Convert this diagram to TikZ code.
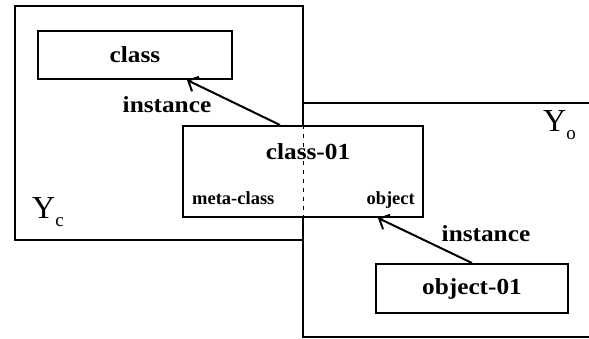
\documentclass[tikz,border=0pt]{standalone}
\usepackage{fontspec}
\setmainfont{Liberation Serif}
\newfontfamily\bigbf[FakeStretch=1.1]{Liberation Serif Bold}
\newfontfamily\smallbf{Liberation Serif Bold}
\usetikzlibrary{arrows.meta}
\tikzset{
  frame/.style={line width=2pt},
  box/.style={draw, line width=2pt, fill=white, inner sep=0pt},
  bigtxt/.style={font=\bigbf\fontsize{23}{25}\selectfont},
  smalltxt/.style={font=\smallbf\fontsize{18.5}{20}\selectfont},
  arr/.style={line width=2pt, -{Straight Barb[length=8pt,width=16pt,line width=2pt]}},
  ylab/.style={font=\fontsize{32}{34}\selectfont, inner sep=0pt, anchor=base west}
}
\newcommand{\ysub}[1]{Y\raisebox{-8pt}{\fontsize{19}{20}\selectfont #1}}
\begin{document}
\begin{tikzpicture}[x=1pt,y=-1pt]
\useasboundingbox (0,0) rectangle (589,339);
% Y_c frame
\draw[frame] (15,6) rectangle (303,240);
% Y_o frame (open to the right)
\draw[frame] (600,103) -- (303,103) -- (303,337) -- (600,337);
\node[ylab] (yc) at (32,219) {\ysub{c}};
\node[ylab] (yo) at (543,132) {\ysub{o}};
% boxes
\node[box, minimum width=194pt, minimum height=48pt] (cls) at (135,55) {};
\node[bigtxt] (clst) at (cls) {class};
\node[box, minimum width=240pt, minimum height=91pt] (c01) at (303,171.5) {};
\draw[line width=0.8pt, dash pattern=on 4pt off 5pt] (c01.north) -- (c01.south);
\node[bigtxt, anchor=base] (c01t) at (308,160) {class-01};
\node[smalltxt, anchor=base west, inner sep=0pt] (mc) at (192,205) {meta-class};
\node[smalltxt, anchor=base east, inner sep=0pt] (ob) at (415,205) {object};
\node[box, minimum width=192pt, minimum height=49pt] (o01) at (472,288.5) {};
\node[bigtxt] (o01t) at (o01) {object-01};
% connectors
\coordinate (s1) at ([xshift=-23pt]c01.north);
\coordinate (e1) at ([xshift=52pt]cls.south);
\coordinate (e2) at ([xshift=75pt]c01.south);
\draw[arr] (s1) -- (e1);
\draw[arr] (o01.north) -- (e2);
\node[bigtxt] (i1) at (167,105) {instance};
\node[bigtxt] (i2) at (486,234) {instance};
\end{tikzpicture}
\end{document}
